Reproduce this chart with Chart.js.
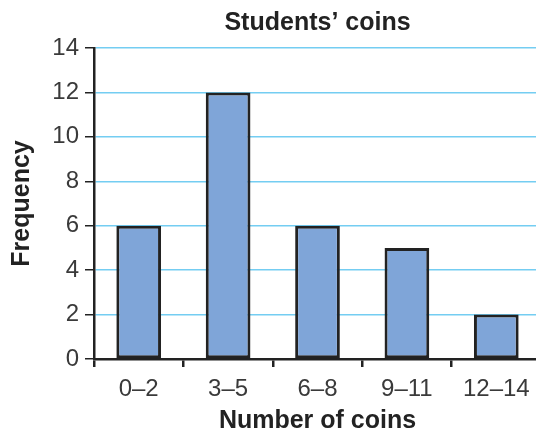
<!DOCTYPE html>
<html>
<head>
<meta charset="utf-8">
<script src="https://cdn.jsdelivr.net/npm/chart.js@4/dist/chart.umd.min.js"></script>
<style>
html,body{margin:0;padding:0;background:#fff;overflow:hidden;width:536px;height:439px;}
canvas{display:block;}
</style>
</head>
<body>
<canvas id="c" width="541" height="439"></canvas>
<script>
const categories = ["0–2", "3–5", "6–8", "9–11", "12–14"];
const frequency = [6, 12, 6, 5, 2];
const yTicks = [0, 2, 4, 6, 8, 10, 12, 14];

const FONT = "'Liberation Sans', Arial, Helvetica, sans-serif";
const ctx = document.getElementById('c').getContext('2d');
new Chart(ctx, {
  type: 'bar',
  data: {
    labels: categories,
    datasets: [{
      data: frequency,
      backgroundColor: '#7fa5d8',
      borderColor: '#222222',
      borderWidth: 3,
      borderSkipped: false,
      barPercentage: 0.5,
      categoryPercentage: 1.0
    }]
  },
  options: {
    responsive: false,
    animation: false,
    devicePixelRatio: 1,
    layout: { padding: { left: 0, right: 0, top: 0, bottom: 0 } },
    plugins: {
      legend: { display: false },
      tooltip: { enabled: false },
      title: {
        display: true,
        text: 'Students’ coins',
        fullSize: false,
        color: '#222',
        font: { family: FONT, size: 25, weight: 'bold' },
        padding: { top: 8, bottom: 10 }
      }
    },
    scales: {
      x: {
        grid: {
          display: true,
          offset: true,
          drawOnChartArea: false,
          drawTicks: true,
          tickLength: 8,
          color: '#222',
          lineWidth: 2.5
        },
        border: { display: true, color: '#222', width: 2.5 },
        ticks: {
          color: '#3a3a3a',
          font: { family: FONT, size: 24 },
          padding: 8,
          maxRotation: 0
        },
        title: {
          display: true,
          text: 'Number of coins',
          color: '#222',
          font: { family: FONT, size: 25, weight: 'bold' },
          padding: { top: 0, bottom: 3 }
        },
        afterFit: (s) => { s.height = 80; }
      },
      y: {
        min: 0,
        max: 14,
        afterBuildTicks: (s) => { s.ticks = yTicks.map(v => ({ value: v })); },
        grid: {
          color: '#74cdf2',
          lineWidth: 1.5,
          tickColor: '#222',
          tickLength: 9,
          drawTicks: true
        },
        border: { display: true, color: '#222', width: 2.5 },
        ticks: {
          color: '#3a3a3a',
          font: { family: FONT, size: 24 },
          padding: 6
        },
        title: {
          display: true,
          text: 'Frequency',
          color: '#222',
          font: { family: FONT, size: 25, weight: 'bold' },
          padding: { top: 7, bottom: 0 }
        },
        afterFit: (s) => { s.width = 94; }
      }
    }
  }
});
</script>
</body>
</html>
